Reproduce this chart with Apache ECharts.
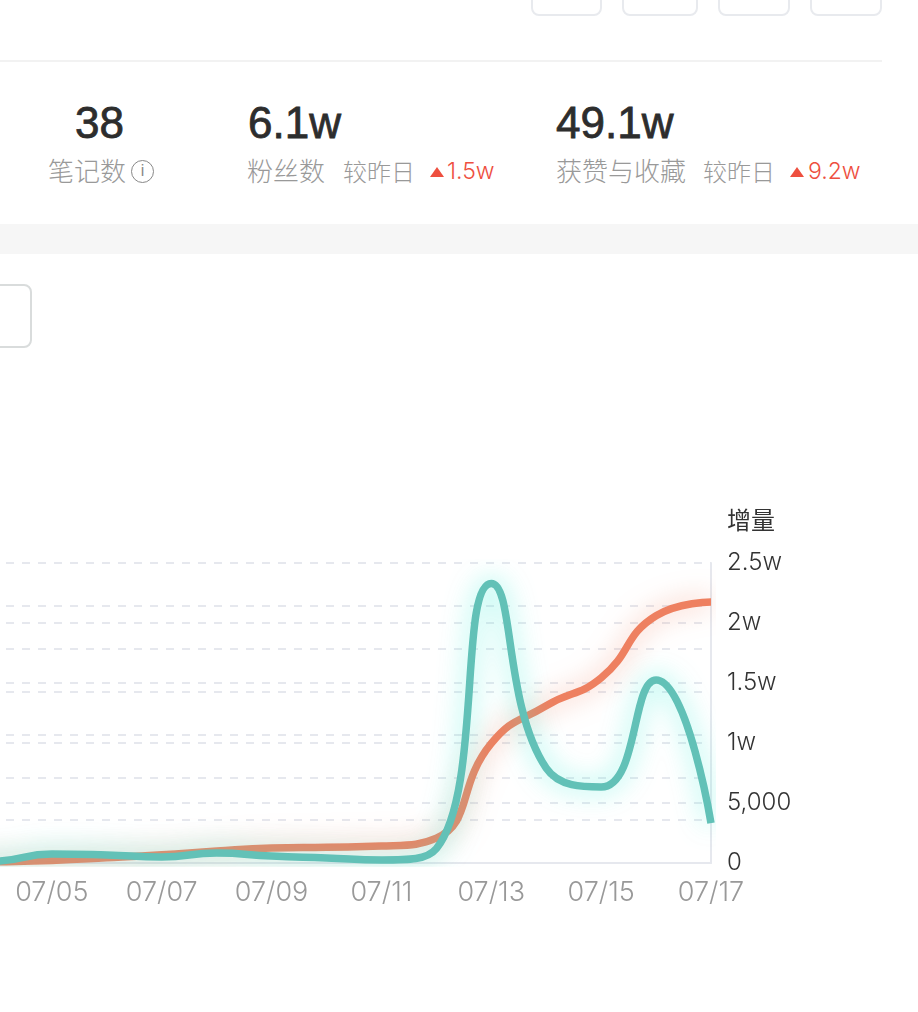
<!DOCTYPE html>
<html>
<head>
<meta charset="utf-8">
<title>粉丝趋势</title>
<script src="https://cdn.jsdelivr.net/npm/echarts@6/dist/echarts.min.js"></script>
<style>
html, body { margin: 0; padding: 0; background: #fff; overflow: hidden; }
body { width: 918px; height: 1012px; position: relative; font-family: "Liberation Sans", "Noto Sans CJK SC", sans-serif; }
.abs { position: absolute; white-space: nowrap; line-height: 1; }
.btn { position: absolute; box-sizing: border-box; border: 2px solid #e8eaee; border-radius: 8px; background: #fff; }
.num { position: absolute; white-space: nowrap; line-height: 1; font-size: 44px; color: #2d2d2d; font-weight: 500; -webkit-text-stroke: 0.8px #2d2d2d; }
.lab { font-size: 26px; color: #999; font-family: "Noto Sans CJK SC", sans-serif; font-weight: 300; }
.cmp { font-size: 24px; color: #999; font-family: "Noto Sans CJK SC", sans-serif; font-weight: 300; }
.up { font-size: 23px; color: #ee4f3f; font-family: Inter, sans-serif; font-weight: 300; }
.tri { position: absolute; width: 0; height: 0; border-left: 7px solid transparent; border-right: 7px solid transparent; border-bottom: 10px solid #ee4f3f; }
.info { position: absolute; box-sizing: border-box; width: 23px; height: 23px; border: 1.5px solid #888; border-radius: 50%; color: #888; font-size: 16px; line-height: 19px; text-align: center; }
#trend { position: absolute; left: 0; top: 0; width: 918px; height: 1012px; }
</style>
</head>
<body>
<div class="btn" style="left:531px;top:-30px;width:71px;height:46px"></div>
<div class="btn" style="left:622px;top:-30px;width:76px;height:46px"></div>
<div class="btn" style="left:718px;top:-30px;width:72px;height:46px"></div>
<div class="btn" style="left:810px;top:-30px;width:72px;height:46px"></div>
<div class="abs" style="left:0;top:60px;width:882px;height:2px;background:#f2f2f2"></div>

<div class="num" style="left:75px;top:101px">38</div>
<div class="abs lab" style="left:48px;top:157px">笔记数</div>
<div class="info" style="left:131px;top:160px">i</div>

<div class="num" style="left:248px;top:101px">6.1w</div>
<div class="abs lab" style="left:247px;top:157px">粉丝数</div>
<div class="abs cmp" style="left:343px;top:159px">较昨日</div>
<div class="tri" style="left:430px;top:167px"></div>
<div class="abs up" style="left:447px;top:160px">1.5w</div>

<div class="num" style="left:556px;top:101px">49.1w</div>
<div class="abs lab" style="left:556px;top:157px">获赞与收藏</div>
<div class="abs cmp" style="left:703px;top:159px">较昨日</div>
<div class="tri" style="left:790px;top:167px"></div>
<div class="abs up" style="left:808px;top:160px">9.2w</div>

<div class="abs" style="left:0;top:224px;width:918px;height:30px;background:#f6f6f6"></div>
<div class="btn" style="left:-40px;top:284px;width:72px;height:64px;border-color:#d9dcdc"></div>

<div id="trend"></div>

<script>
// 日期
const dates = ["07/03", "07/04", "07/05", "07/06", "07/07", "07/08", "07/09", "07/10", "07/11", "07/12", "07/13", "07/14", "07/15", "07/16", "07/17"];
// 粉丝总量（左轴，左侧刻度在画面外）
const totalFans = [100, 300, 600, 1200, 1900, 2800, 3500, 3700, 3950, 5800, 27900, 36700, 43200, 57700, 60900];
// 增量（右轴）
const dailyIncrease = [50, 150, 750, 670, 500, 830, 580, 420, 250, 1200, 23300, 7900, 6330, 15250, 3330];
const rightTicks = { min: 0, max: 25000, interval: 5000 };
const leftTicks = { min: 0, max: 70000, interval: 10000 };

let trendChart = echarts.init(document.getElementById("trend"));
let gridLine = {
  show: true,
  lineStyle: { color: "#e6e8ee", width: 2, type: [8, 8] },
};
let option = {
  animation: false,
  grid: { left: -58, right: 207, top: 563, bottom: 149, outerBoundsMode: "none" },
  xAxis: {
    type: "category",
    data: dates,
    boundaryGap: false,
    axisLine: { lineStyle: { color: "#e6e8ee", width: 2 } },
    axisTick: { show: false },
    axisLabel: { interval: 1, color: "#999", fontSize: 27, fontWeight: 300, margin: 16, fontFamily: "Inter" },
  },
  yAxis: [
    {
      type: "value",
      min: leftTicks.min,
      max: leftTicks.max,
      interval: leftTicks.interval,
      axisLine: { show: false },
      axisTick: { show: false },
      axisLabel: { show: false },
      splitLine: gridLine,
    },
    {
      type: "value",
      position: "right",
      min: rightTicks.min,
      max: rightTicks.max,
      interval: rightTicks.interval,
      name: "增量",
      nameGap: 31,
      nameTextStyle: { color: "#333", fontSize: 24, align: "left", padding: [0, 0, 0, 16], fontFamily: "Noto Sans CJK SC" },
      axisLine: { show: true, lineStyle: { color: "#e6e8ee", width: 2 } },
      axisTick: { show: false },
      axisLabel: {
        color: "#333",
        fontSize: 24,
        fontWeight: 300,
        margin: 16,
        padding: [3, 0, 0, 0],
        fontFamily: "Inter",
        formatter: function (v) {
          return v >= 10000 ? v / 10000 + "w" : v.toLocaleString("en-US");
        },
      },
      splitLine: gridLine,
    },
  ],
  series: [
    {
      name: "总量",
      type: "line",
      yAxisIndex: 0,
      smooth: true,
      showSymbol: false,
      data: totalFans,
      lineStyle: { color: "#ee8060", width: 7.5, shadowColor: "rgba(238,128,96,0.55)", shadowBlur: 26 },
    },
    {
      name: "增量",
      type: "line",
      yAxisIndex: 1,
      smooth: true,
      showSymbol: false,
      data: dailyIncrease,
      lineStyle: { color: "#62c1b7", width: 7.5, shadowColor: "rgba(80,240,220,0.7)", shadowBlur: 26 },
    },
  ],
};
trendChart.setOption(option);
</script>
</body>
</html>
